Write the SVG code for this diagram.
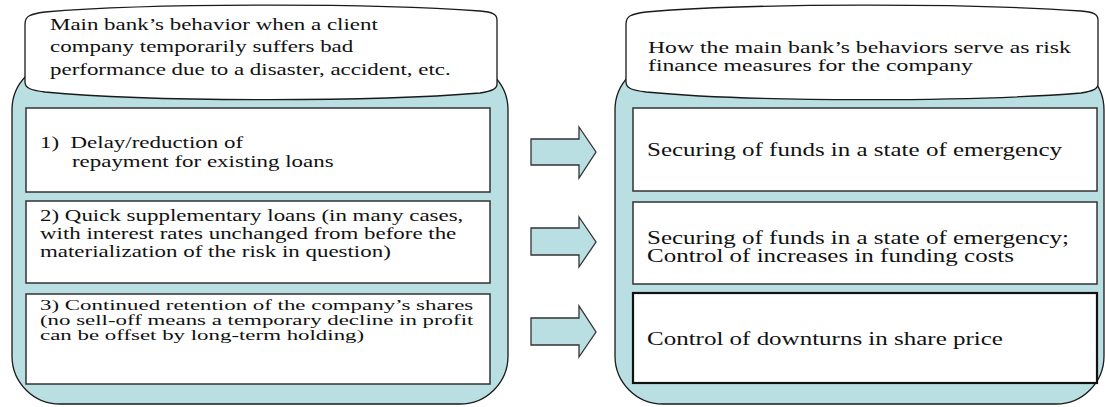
<svg xmlns="http://www.w3.org/2000/svg" width="1105" height="407" viewBox="0 0 1105 407">
<style>
.body{fill:#b9dfe3;stroke:#1a1a1a;stroke-width:1.3}
.cap{fill:#ffffff;stroke:#1a1a1a;stroke-width:1.3}
.box{fill:#ffffff;stroke:#333333;stroke-width:1.5}
.boxb{fill:#ffffff;stroke:#111111;stroke-width:2.2}
.arrow{fill:#b9dfe3;stroke:#333333;stroke-width:1.3;stroke-linejoin:miter}
text{font-family:"Liberation Serif","Times New Roman",serif;font-size:16.5px;fill:#111111}
.rt{font-size:18px}
.rc{font-size:17px}
.tight{font-size:15.5px}
</style>
<rect width="1105" height="407" fill="#ffffff"/>
<g id="left-panel">
<rect class="body" x="12" y="62" width="496" height="342" rx="48" ry="48"/>
<path class="cap" d="M25,24 C25,16 30,14 45,12 C150,3 370,3 480,11 C492,12 497,14 497,20 L497,84 C497,89 492,91 480,93 C370,102 150,102 45,92 C30,90 25,88 25,82 Z"/>
<text transform="translate(50,0) scale(1.39,1)"><tspan x="0" y="30">Main bank’s behavior when a client</tspan><tspan x="0" y="52.5">company temporarily suffers bad</tspan><tspan x="0" y="75">performance due to a disaster, accident, etc.</tspan></text>
</g>
<g id="left-box1">
<rect class="box" x="26" y="108" width="464" height="84"/>
<text transform="translate(40,0) scale(1.39,1)" xml:space="preserve"><tspan x="0" y="148">1)  Delay/reduction of</tspan><tspan x="23" y="167">repayment for existing loans</tspan></text>
</g>
<g id="left-box2">
<rect class="box" x="26" y="201" width="464" height="82"/>
<text transform="translate(40,0) scale(1.39,1)"><tspan x="0" y="221">2) Quick supplementary loans (in many cases,</tspan><tspan x="0" y="239.3">with interest rates unchanged from before the</tspan><tspan x="0" y="257.5">materialization of the risk in question)</tspan></text>
</g>
<g id="left-box3">
<rect class="box" x="26" y="294" width="464" height="90"/>
<text class="tight" transform="translate(40,0) scale(1.477,1)"><tspan x="0" y="310">3) Continued retention of the company’s shares</tspan><tspan x="0" y="325">(no sell-off means a temporary decline in profit</tspan><tspan x="0" y="340">can be offset by long-term holding)</tspan></text>
</g>
<g id="right-panel">
<rect class="body" x="615" y="62" width="489" height="342" rx="48" ry="48"/>
<path class="cap" d="M626,24 C626,16 631,14 646,12 C750,3 970,3 1081,11 C1093,12 1098,14 1098,20 L1098,84 C1098,89 1093,91 1081,93 C970,102 750,102 646,92 C631,90 626,88 626,82 Z"/>
<text class="rc" transform="translate(648,0) scale(1.394,1)"><tspan x="0" y="53">How the main bank’s behaviors serve as risk</tspan><tspan x="0" y="71">finance measures for the company</tspan></text>
</g>
<g id="right-box1">
<rect class="box" x="633" y="108" width="464" height="83"/>
<text class="rt" transform="translate(647,0) scale(1.389,1)"><tspan x="0" y="156.5">Securing of funds in a state of emergency</tspan></text>
</g>
<g id="right-box2">
<rect class="box" x="633" y="202" width="464" height="82"/>
<text class="rt" transform="translate(647,0) scale(1.389,1)"><tspan x="0" y="244">Securing of funds in a state of emergency;</tspan><tspan x="0" y="262">Control of increases in funding costs</tspan></text>
</g>
<g id="right-box3">
<rect class="boxb" x="633" y="293" width="464" height="90"/>
<text class="rt" transform="translate(647,0) scale(1.389,1)"><tspan x="0" y="345">Control of downturns in share price</tspan></text>
</g>
<g id="connectors">
<path class="arrow" d="M531,139 L579,139 L579,127 L596,152 L579,178 L579,165 L531,165 Z"/>
<path class="arrow" d="M531,228 L579,228 L579,217 L596,242 L579,267 L579,255 L531,255 Z"/>
<path class="arrow" d="M531,318 L579,318 L579,306 L596,332 L579,357 L579,345 L531,345 Z"/>
</g>
</svg>
